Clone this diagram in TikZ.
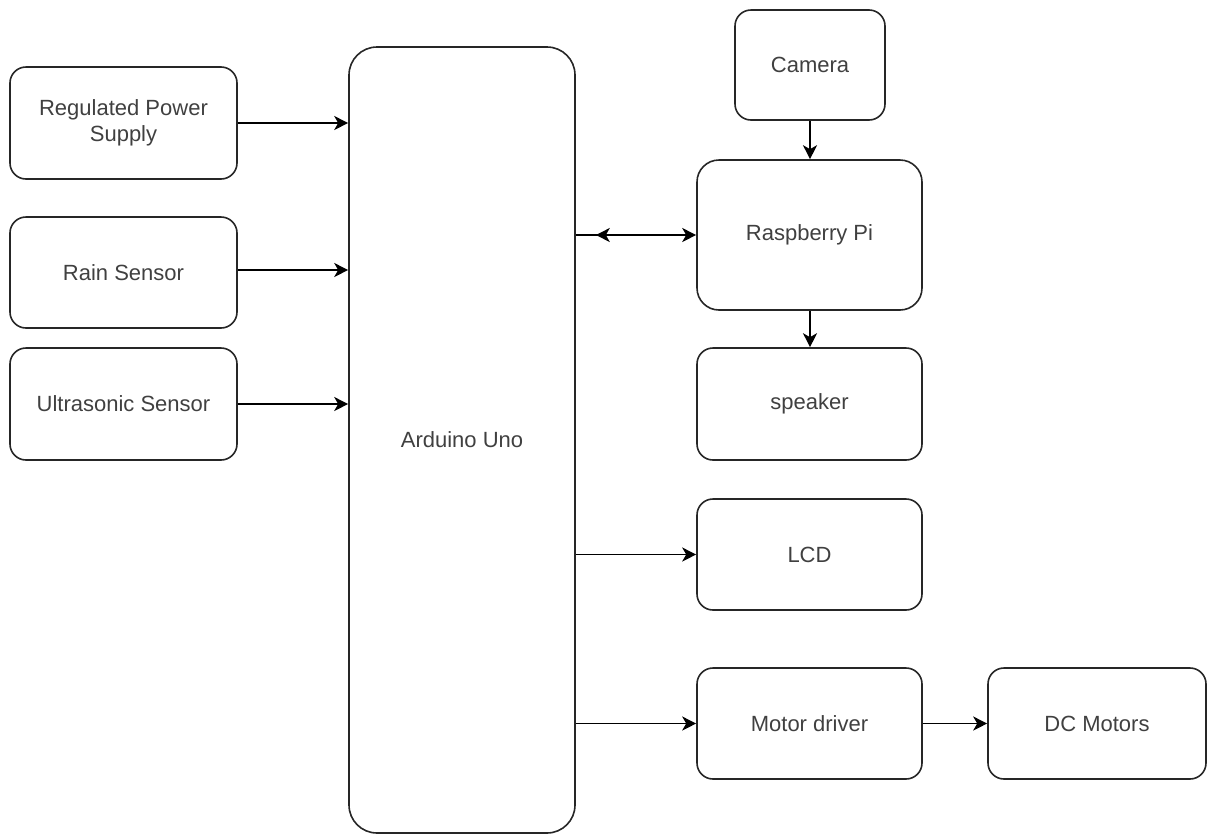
\documentclass[tikz,border=0pt]{standalone}
\usepackage{fontspec}
\setmainfont{Liberation Sans}
\usetikzlibrary{arrows.meta,decorations.markings}
\begin{document}
\begin{tikzpicture}[x=1pt,y=-1pt,
  box/.style={draw=black!85, line width=1.6pt, rounded corners=16pt, text=black!75,
    font=\fontsize{22}{26}\selectfont, align=center, inner sep=0pt},
  tipstyle/.style={},
  arr/.style={draw=black, line width=1.6pt, -{Stealth[length=14pt,width=14pt,inset=4pt]}},
  backtip/.style={postaction={decorate}, decoration={markings,
    mark=at position 20pt with {\arrowreversed{Stealth[length=14pt,width=14pt,inset=4pt]}}}}]
\useasboundingbox (0,0) rectangle (1208,836);
% left column
\node[box, minimum width=227pt, minimum height=112pt] (rps) at (123.5,123) {Regulated Power\\Supply};
\node[box, minimum width=227pt, minimum height=111pt] (rain) at (123.5,272.5) {Rain Sensor};
\node[box, minimum width=227pt, minimum height=112pt] (ultra) at (123.5,404) {Ultrasonic Sensor};
% Arduino
\node[box, rounded corners=28pt, minimum width=226pt, minimum height=786pt] (ard) at (462,440) {Arduino Uno};
% right column
\node[box, minimum width=150pt, minimum height=110pt] (cam) at (810,65) {Camera};
\node[box, rounded corners=22pt, minimum width=225pt, minimum height=150pt] (rpi) at (809.5,235) {Raspberry Pi};
\node[box, minimum width=225pt, minimum height=112pt] (spk) at (809.5,404) {speaker};
\node[box, minimum width=225pt, minimum height=111pt] (lcd) at (809.5,554.5) {LCD};
\node[box, minimum width=225pt, minimum height=111pt] (md) at (809.5,723.5) {Motor driver};
\node[box, minimum width=218pt, minimum height=111pt] (dc) at (1097,723.5) {DC Motors};
% connectors
\draw[arr] (rps.east) -- (rps.east -| ard.west);
\draw[arr] (rain.east |- 0,270) -- (ard.west |- 0,270);
\draw[arr] (ultra.east) -- (ultra.east -| ard.west);
\draw[arr, backtip] (ard.east |- rpi.west) -- (rpi.west);
\draw[arr] (ard.east |- lcd.west) -- (lcd.west);
\draw[arr] (ard.east |- md.west) -- (md.west);
\draw[arr] (md.east) -- (dc.west);
\draw[arr] (cam.south) -- (cam.south |- rpi.north);
\draw[arr] (rpi.south -| cam.south) -- (cam.south |- spk.north);
\end{tikzpicture}
\end{document}
